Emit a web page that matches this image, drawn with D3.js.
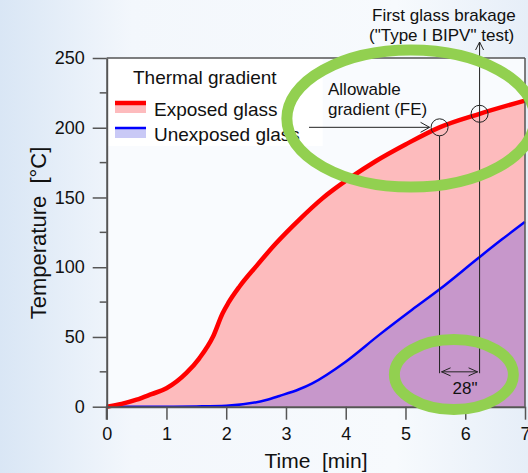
<!DOCTYPE html>
<html>
<head>
<meta charset="utf-8">
<script src="https://cdn.jsdelivr.net/npm/d3@7"></script>
<style>
  html, body { margin: 0; padding: 0; }
  svg { display: block; font-family: "Liberation Sans", Arial, sans-serif; }
</style>
</head>
<body>
<svg id="canvas"></svg>
<script>
// time in minutes
let timeRed = [0, 0.25, 0.5, 0.75, 1, 1.33, 1.55, 1.78, 1.94, 2.03, 2.22, 2.5, 2.83, 3.22, 3.6, 4.07, 4.5, 5, 5.57, 6.24, 7]
let tempRed = [0, 2, 5, 9, 13.2, 24, 34.7, 50.3, 67, 74, 86, 100.6, 117, 134, 149, 164, 176, 188, 200.3, 210, 219.5]

let timeBlue = [0, 1, 1.5, 2, 2.67, 2.89, 3.22, 3.44, 4, 4.56, 5.11, 5.56, 6.22, 6.61, 7]
let tempBlue = [0, 0, 0.2, 0.7, 4.8, 7.7, 12.5, 16.8, 32.3, 51.5, 69.5, 83.8, 106.6, 119.8, 132.5]

let xTicks = [0, 1, 2, 3, 4, 5, 6, 7]
let yTicks = [0, 50, 100, 150, 200, 250]
let yMinorTicks = [25, 75, 125, 175, 225]

let legendTitle = 'Thermal gradient'
let legendNames = ['Exposed glass', 'Unexposed glass']

let allowable = {t: 5.57, T: 200.3}
let breakage = {t: 6.24, T: 210}

const width = 528
const height = 473

let xScale = d3.scaleLinear().domain([0, 7]).range([106.7, 525])
let yScale = d3.scaleLinear().domain([0, 250]).range([406.7, 58])

let canvas = d3.select('#canvas').attr('width', width).attr('height', height)

// background, light blue fading to white
let defs = canvas.append('defs')
let bg = defs.append('linearGradient').attr('id', 'bg')
bg.append('stop').attr('offset', '0%').attr('stop-color', '#d9e6f5')
bg.append('stop').attr('offset', '25%').attr('stop-color', '#f3f7fc')
bg.append('stop').attr('offset', '75%').attr('stop-color', '#f7fafd')
bg.append('stop').attr('offset', '100%').attr('stop-color', '#e6eef8')
canvas.append('rect').attr('width', width).attr('height', height).attr('fill', 'url(#bg)')

canvas.append('rect')
  .attr('x', xScale(0)).attr('y', yScale(250))
  .attr('width', xScale(7) - xScale(0)).attr('height', yScale(0) - yScale(250))
  .attr('fill', '#f9fbfe')

// legend box
canvas.append('rect')
  .attr('x', xScale(0) + 1).attr('y', yScale(250) + 1)
  .attr('width', 215).attr('height', 87)
  .attr('fill', '#ffffff')

let redData = timeRed.map((t, i) => [t, tempRed[i]])
let blueData = timeBlue.map((t, i) => [t, tempBlue[i]])

let area = d3.area()
  .x(d => xScale(d[0]))
  .y0(yScale(0))
  .y1(d => yScale(d[1]))
  .curve(d3.curveMonotoneX)

let line = d3.line()
  .x(d => xScale(d[0]))
  .y(d => yScale(d[1]))
  .curve(d3.curveMonotoneX)

canvas.append('path').datum(redData).attr('d', area).attr('fill', '#fdbbbd')
canvas.append('path').datum(blueData).attr('d', area).attr('fill', '#c797cb')
canvas.append('path').datum(blueData).attr('d', line)
  .attr('fill', 'none').attr('stroke', '#0000ff').attr('stroke-width', 2.5)
canvas.append('path').datum(redData).attr('d', line)
  .attr('fill', 'none').attr('stroke', '#ff0000').attr('stroke-width', 4.5)

// axes
let axisColor = '#555'
let xAxis = d3.axisBottom(xScale).tickValues(xTicks).tickFormat(d3.format('d'))
  .tickSize(13).tickPadding(8).tickSizeOuter(0)
let gx = canvas.append('g').attr('transform', 'translate(0,' + yScale(0) + ')').call(xAxis)
gx.select('.domain').attr('stroke', axisColor).attr('stroke-width', 2)
gx.selectAll('.tick line').attr('stroke', axisColor).attr('stroke-width', 1.5)
gx.selectAll('.tick text').attr('font-size', 18).attr('fill', '#111').attr('font-family', 'Liberation Sans, Arial')

let yAxis = d3.axisLeft(yScale).tickValues(yTicks).tickFormat(d3.format('d'))
  .tickSize(14).tickPadding(8).tickSizeOuter(0)
let gy = canvas.append('g').attr('transform', 'translate(' + xScale(0) + ',0)').call(yAxis)
gy.select('.domain').attr('stroke', axisColor).attr('stroke-width', 2)
gy.selectAll('.tick line').attr('stroke', axisColor).attr('stroke-width', 1.5)
gy.selectAll('.tick text').attr('font-size', 18).attr('fill', '#111').attr('font-family', 'Liberation Sans, Arial')

canvas.append('g').selectAll('line')
  .data(yMinorTicks).enter().append('line')
  .attr('x1', xScale(0) - 7).attr('x2', xScale(0))
  .attr('y1', d => yScale(d)).attr('y2', d => yScale(d))
  .attr('stroke', axisColor).attr('stroke-width', 1.5)

// y axis line down to the 0 x-tick, frame top and right
canvas.append('line')
  .attr('x1', xScale(0)).attr('x2', xScale(0))
  .attr('y1', yScale(0)).attr('y2', yScale(0) + 13)
  .attr('stroke', axisColor).attr('stroke-width', 2)
canvas.append('line')
  .attr('x1', xScale(0)).attr('x2', xScale(7))
  .attr('y1', yScale(250)).attr('y2', yScale(250))
  .attr('stroke', axisColor).attr('stroke-width', 1.5)
canvas.append('line')
  .attr('x1', xScale(7)).attr('x2', xScale(7))
  .attr('y1', yScale(250)).attr('y2', yScale(0))
  .attr('stroke', axisColor).attr('stroke-width', 1.5)

// axis titles
canvas.append('text')
  .attr('x', 316).attr('y', 468)
  .attr('text-anchor', 'middle').attr('font-size', 21).attr('fill', '#111')
  .style('white-space', 'pre')
  .text('Time  [min]')
canvas.append('text')
  .attr('transform', 'translate(46,233) rotate(-90)')
  .attr('text-anchor', 'middle').attr('font-size', 22).attr('fill', '#111')
  .style('white-space', 'pre')
  .text('Temperature  [°C]')

// legend
canvas.append('text').attr('x', 133).attr('y', 84).attr('font-size', 19).attr('fill', '#111').text(legendTitle)
let legendColors = ['#ff0000', '#0000ff']
let legendFills = ['#fdbbbd', '#c9c9f6']
let legendWidths = [4.5, 2.5]
legendNames.forEach((name, i) => {
  let y0 = 103 + i * 25
  canvas.append('rect').attr('x', 115).attr('y', y0).attr('width', 31).attr('height', 10).attr('fill', legendFills[i])
  canvas.append('line').attr('x1', 115).attr('x2', 146).attr('y1', y0).attr('y2', y0)
    .attr('stroke', legendColors[i]).attr('stroke-width', legendWidths[i])
  canvas.append('text').attr('x', 154).attr('y', y0 + 6).attr('dy', '0.35em')
    .attr('font-size', 19).attr('fill', '#111').text(name)
})

// annotations
let annColor = '#222'
let ann = canvas.append('g').attr('stroke', annColor).attr('stroke-width', 1).attr('fill', 'none')

ann.append('circle').attr('cx', xScale(allowable.t)).attr('cy', yScale(allowable.T)).attr('r', 8.5)
ann.append('circle').attr('cx', xScale(breakage.t)).attr('cy', yScale(breakage.T)).attr('r', 8.5)

// horizontal arrow to allowable point
let ax = xScale(allowable.t) - 10
let ay = yScale(allowable.T)
ann.append('line').attr('x1', 309).attr('x2', ax).attr('y1', ay).attr('y2', ay)
ann.append('path').attr('d', `M${ax - 9},${ay - 5}L${ax},${ay}L${ax - 9},${ay + 5}`)

// vertical lines
let yLow = yScale(24)
ann.append('line').attr('x1', xScale(allowable.t)).attr('x2', xScale(allowable.t))
  .attr('y1', yScale(allowable.T) + 8.5).attr('y2', yLow)
ann.append('line').attr('x1', xScale(breakage.t)).attr('x2', xScale(breakage.t))
  .attr('y1', 42).attr('y2', yLow)
let bx = xScale(breakage.t)
ann.append('path').attr('d', `M${bx - 4},${50}L${bx},${42}L${bx + 4},${50}`)

// double arrow
let da = yScale(25)
let dx1 = xScale(allowable.t) + 2
let dx2 = xScale(breakage.t) - 2
ann.append('line').attr('x1', dx1).attr('x2', dx2).attr('y1', da).attr('y2', da)
ann.append('path').attr('d', `M${dx1 + 9},${da - 4}L${dx1},${da}L${dx1 + 9},${da + 4}`)
ann.append('path').attr('d', `M${dx2 - 9},${da - 4}L${dx2},${da}L${dx2 - 9},${da + 4}`)

let annText = canvas.append('g').attr('font-size', 17).attr('fill', '#111')
annText.append('text').attr('x', 328).attr('y', 95).text('Allowable')
annText.append('text').attr('x', 328).attr('y', 115).text('gradient (FE)')
annText.append('text').attr('x', 372).attr('y', 21).text('First glass brakage')
annText.append('text').attr('x', 369).attr('y', 41).text('("Type I BIPV" test)')
annText.append('text').attr('x', 465).attr('y', 394).attr('text-anchor', 'middle').text('28"')

// green highlight ellipses
let green = '#92d050'
canvas.append('ellipse')
  .attr('cx', xScale(5.09)).attr('cy', yScale(206.6))
  .attr('rx', 124).attr('ry', 68.5)
  .attr('fill', 'none').attr('stroke', green).attr('stroke-width', 11)
canvas.append('ellipse')
  .attr('cx', xScale(5.81)).attr('cy', yScale(23.1))
  .attr('rx', 59.5).attr('ry', 35)
  .attr('fill', 'none').attr('stroke', green).attr('stroke-width', 11)
</script>
</body>
</html>
